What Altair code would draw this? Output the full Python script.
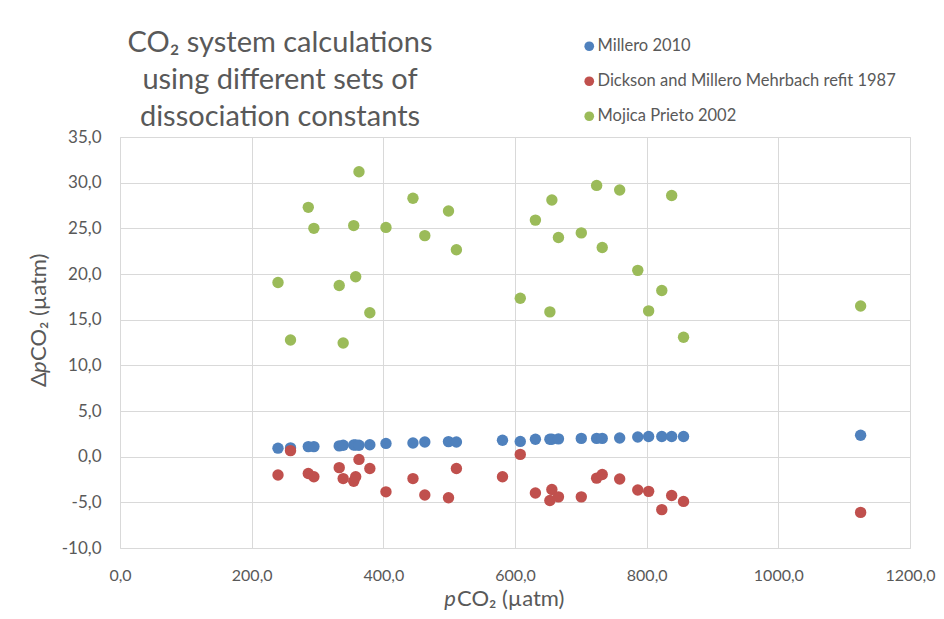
import altair as alt
import pandas as pd

# ---- data ----
pco2 = [240, 259, 286, 294.5, 333, 339, 355, 358, 363, 379.5, 404, 445, 463, 499, 511,
        581, 608, 631, 653, 656, 666, 700.7, 724, 732.5, 759, 786.5, 803, 823, 838, 856, 1125]

millero_2010 = [0.93, 0.96, 1.1, 1.1, 1.18, 1.25, 1.28, 1.28, 1.25, 1.3, 1.45, 1.5, 1.6, 1.65, 1.6,
                1.8, 1.67, 1.9, 1.9, 1.9, 1.95, 2.0, 2.0, 2.0, 2.05, 2.15, 2.2, 2.2, 2.2, 2.2, 2.35]

dickson_millero = [-2.0, 0.66, -1.85, -2.2, -1.2, -2.4, -2.7, -2.2, -0.3, -1.3, -3.85, -2.4, -4.2, -4.5, -1.3,
                   -2.2, 0.25, -3.97, -4.8, -3.6, -4.4, -4.4, -2.35, -1.95, -2.45, -3.65, -3.8, -5.8, -4.25, -4.9, -6.1]

mojica_prieto = [19.07, 12.78, 27.3, 25.0, 18.74, 12.45, 25.3, 19.7, 31.2, 15.75, 25.1, 28.3, 24.2, 26.9, 22.65,
                 None, 17.35, 25.9, 15.85, 28.1, 24.0, 24.5, 29.7, 22.9, 29.2, 20.4, 15.96, 18.2, 28.6, 13.07, 16.5]

series_names = ["Millero 2010", "Dickson and Millero Mehrbach refit 1987", "Mojica Prieto 2002"]
series_colors = ["#4F81BD", "#C0504D", "#9BBB59"]

title_lines = ["CO\u2082 system calculations", "using different sets of", "dissociation constants"]
x_ticks = [0, 200, 400, 600, 800, 1000, 1200]
y_ticks = [-10, -5, 0, 5, 10, 15, 20, 25, 30, 35]

rows = []
for name, vals in zip(series_names, [millero_2010, dickson_millero, mojica_prieto]):
    for xv, yv in zip(pco2, vals):
        if yv is not None:
            rows.append({"pCO2": xv, "dpCO2": yv, "series": name})
df = pd.DataFrame(rows)

FONT = "Lato"
GREY = "#595959"
label_expr = "replace(replace(format(datum.value, '.1f'), '.', ','), '\u2212', '-')"

W, H = 790, 411

points = alt.Chart(df).mark_circle(size=130, opacity=1).encode(
    x=alt.X("pCO2:Q",
            scale=alt.Scale(domain=[0, 1200], nice=False, zero=False),
            axis=alt.Axis(values=x_ticks, labelExpr=label_expr, title=None, grid=True,
                          gridColor="#D9D9D9", domain=False, ticks=False, tickSize=0,
                          labelFlush=False, labelOverlap=False,
                          labelFont=FONT, labelFontSize=16, labelColor=GREY,
                          labelPadding=19)),
    y=alt.Y("dpCO2:Q",
            scale=alt.Scale(domain=[-10, 35], nice=False, zero=False),
            axis=alt.Axis(values=y_ticks, labelExpr=label_expr, title=None, grid=True,
                          gridColor="#D9D9D9", domain=False, ticks=False, tickSize=0,
                          labelFlush=False, labelOverlap=False,
                          labelFont=FONT, labelFontSize=17, labelColor=GREY,
                          labelPadding=19)),
    color=alt.Color("series:N",
                    scale=alt.Scale(domain=series_names, range=series_colors),
                    legend=alt.Legend(title=None, orient="none", legendX=461, legendY=-99,
                                      padding=0, rowPadding=18, symbolType="circle",
                                      symbolSize=95, symbolStrokeWidth=0, labelOffset=0,
                                      labelLimit=0,
                                      labelFont=FONT, labelFontSize=16.5, labelColor=GREY)),
)

one = alt.Data(values=[{"k": 1}])

chart_title = alt.Chart(one).mark_text(
    text=title_lines, font=FONT, fontSize=29, color=GREY, lineHeight=37,
    align="center", baseline="alphabetic"
).encode(x=alt.value(160), y=alt.value(-85))

x_title_p = alt.Chart(one).mark_text(
    text="p", font=FONT, fontSize=22, fontStyle="italic", color=GREY,
    align="right", baseline="middle"
).encode(x=alt.value(336), y=alt.value(462))
x_title_rest = alt.Chart(one).mark_text(
    text="CO\u2082 (\u00b5atm)", font=FONT, fontSize=22, color=GREY,
    align="left", baseline="middle"
).encode(x=alt.value(337), y=alt.value(462))

y_title_delta = alt.Chart(one).mark_text(
    text="\u0394", font=FONT, fontSize=22, color=GREY, angle=270,
    align="left", baseline="middle"
).encode(x=alt.value(-81), y=alt.value(250))
y_title_p = alt.Chart(one).mark_text(
    text="p", font=FONT, fontSize=22, fontStyle="italic", color=GREY, angle=270,
    align="left", baseline="middle"
).encode(x=alt.value(-81), y=alt.value(236))
y_title_rest = alt.Chart(one).mark_text(
    text="CO\u2082 (\u00b5atm)", font=FONT, fontSize=22, color=GREY, angle=270,
    align="left", baseline="middle"
).encode(x=alt.value(-81), y=alt.value(224))

chart = alt.layer(
    points, chart_title, x_title_p, x_title_rest, y_title_delta, y_title_p, y_title_rest
).properties(
    width=W, height=H,
    autosize=alt.AutoSizeParams(type="none"),
    padding={"left": 112, "top": 129, "right": 26, "bottom": 63},
).configure_view(stroke=None).configure(background="white")

chart.save("out.html", embed_options={"renderer": "svg", "actions": False})
